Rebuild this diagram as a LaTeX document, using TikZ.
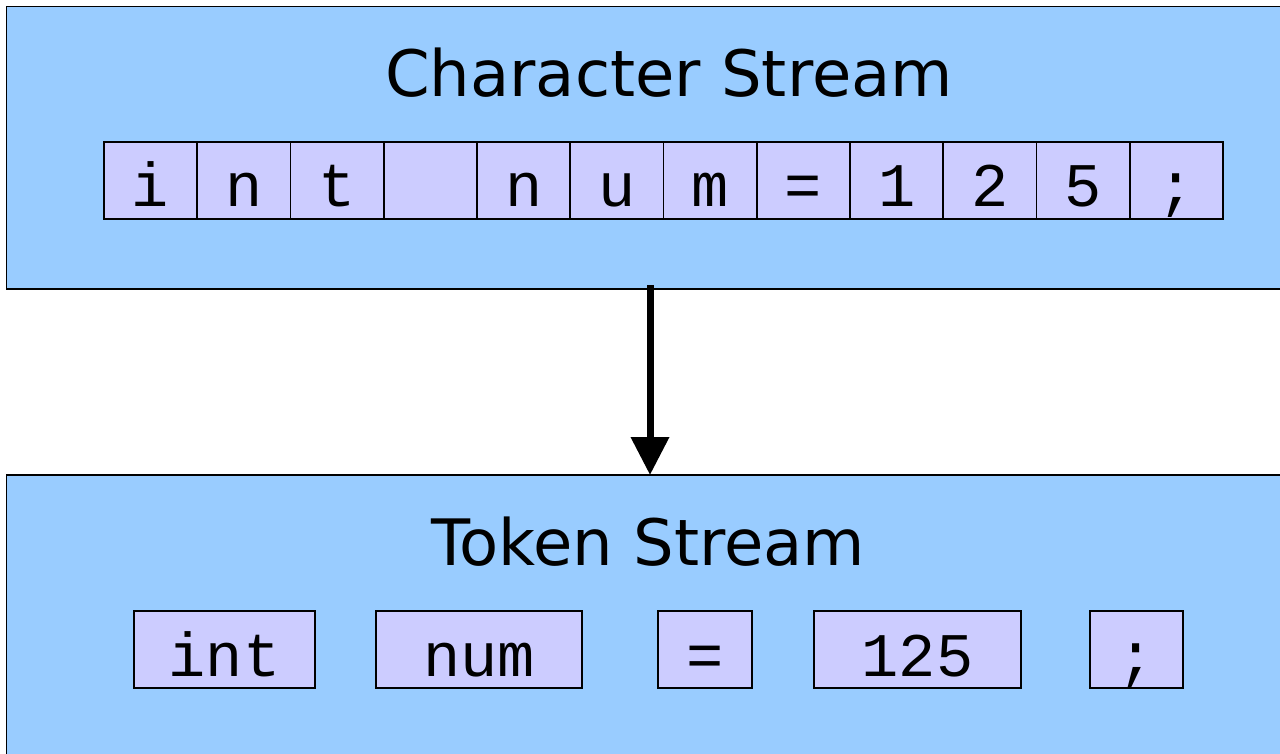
\documentclass[tikz,border=0pt]{standalone}
\usepackage{fontspec}
\setmainfont{DejaVu Sans}
\newfontfamily\codefont{Liberation Mono}
\usetikzlibrary{positioning, arrows.meta}
\definecolor{panelblue}{HTML}{99CCFF}
\definecolor{cellblue}{HTML}{CCCCFF}

\begin{document}
\begin{tikzpicture}[
    x=1pt, y=-1pt,
    on grid,
    node distance=93.25pt,
    panel/.style={draw=black, line width=1.6pt, fill=panelblue, minimum width=1287pt, inner sep=0pt, outer sep=0pt, anchor=north west},
    heading/.style={font=\fontsize{64}{70}\selectfont, anchor=base, inner sep=0pt},
    cell/.style={draw=black, line width=1.6pt, fill=cellblue, minimum width=93.25pt, inner xsep=0pt, inner ysep=0pt, outer sep=0pt, text height=65pt, text depth=12pt, font=\codefont\fontsize{62}{68}\selectfont},
    flow/.style={line width=7pt, -{Triangle[length=38pt, width=37pt]}}
]
   \useasboundingbox (0,0) rectangle (1280,754);

   % Panels
   \node[panel, minimum height=282.5pt] (charPanel) at (6.5,6.5) {};
   \node[panel, minimum height=300pt] (tokenPanel) at (6.5,475) {};
   \node[heading] (charTitle) at (669,97) {Character Stream};
   \node[heading] (tokenTitle) at (648,565) {Token Stream};

   % Characters
   \node[cell] (c1) at (150.6,180.5) {i};
   \node[cell] (c2) [right=of c1] {n};
   \node[cell] (c3) [right=of c2] {t};
   \node[cell] (c4) [right=of c3] {};
   \node[cell] (c5) [right=of c4] {n};
   \node[cell] (c6) [right=of c5] {u};
   \node[cell] (c7) [right=of c6] {m};
   \node[cell] (c8) [right=of c7] {=};
   \node[cell] (c9) [right=of c8] {1};
   \node[cell] (c10) [right=of c9] {2};
   \node[cell] (c11) [right=of c10] {5};
   \node[cell] (c12) [right=of c11] {;};

   % Tokens
   \node[cell, minimum width=181pt] (tInt) at (224.5,649.5) {int};
   \node[cell, minimum width=206pt] (tNum) [right=254.5pt of tInt] {num};
   \node[cell, minimum width=94pt] (tEq) [right=226pt of tNum] {=};
   \node[cell, minimum width=207pt] (tVal) [right=212.5pt of tEq] {125};
   \node[cell, minimum width=93pt] (tSemi) [right=219pt of tVal] {;};

   % Lexing step
   \draw[flow] ([yshift=4pt]charPanel.south) -- (tokenPanel.north);

\end{tikzpicture}
\end{document}
